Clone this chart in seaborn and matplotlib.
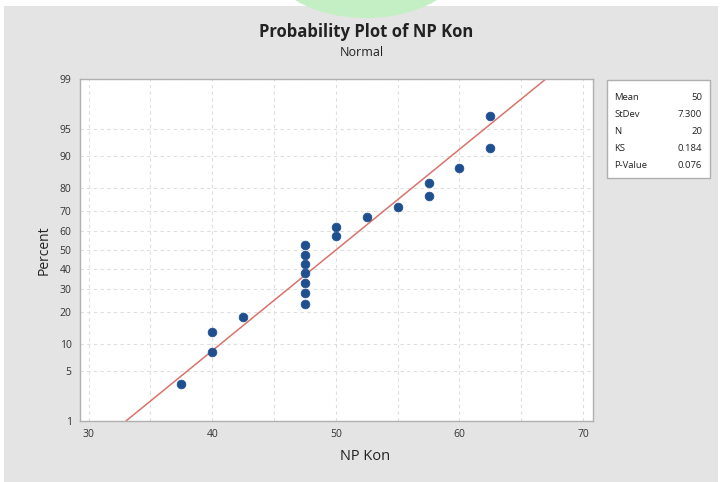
import numpy as np
import pandas as pd
import seaborn as sns
import matplotlib.pyplot as plt
from matplotlib.patches import Rectangle, Ellipse
from statistics import NormalDist

np_kon = [37.5, 40, 40, 42.5, 47.5, 47.5, 47.5, 47.5, 47.5, 47.5, 47.5,
          50, 50, 52.5, 55, 57.5, 57.5, 60, 62.5, 62.5]
percent_ticks = [1, 5, 10, 20, 30, 40, 50, 60, 70, 80, 90, 95, 99]
x_ticks = [30, 40, 50, 60, 70]
ks_stat = 0.184
p_value = 0.076

W, H = 722, 482
norm = NormalDist()


def fx(px):
    return px / W


def fy(py):
    # pixel rows from the top -> figure fraction
    return 1 - py / H


def main():
    sns.set_style("white")
    plt.rcParams['font.family'] = ['Open Sans', 'DejaVu Sans']

    n = len(np_kon)
    data = pd.DataFrame({"NP Kon": sorted(np_kon)})
    # median ranks, like Minitab
    data["pp"] = [(i + 1 - 0.3) / (n + 0.4) for i in range(n)]
    data["z"] = [norm.inv_cdf(p) for p in data["pp"]]

    mean = float(np.mean(np_kon))
    sd = float(np.std(np_kon, ddof=1))
    z_lo, z_hi = norm.inv_cdf(0.01), norm.inv_cdf(0.99)
    fit = pd.DataFrame({"x": [mean + z_lo * sd, mean + z_hi * sd], "z": [z_lo, z_hi]})

    fig = plt.figure(figsize=(W / 100, H / 100), dpi=100, facecolor="white")
    fig.patches.append(Rectangle((fx(4), 0), fx(714), fy(6), transform=fig.transFigure,
                                 facecolor="#e4e4e4", edgecolor="none", zorder=-2))
    fig.patches.append(Ellipse((fx(366), fy(-40)), fx(196), 116 / H, transform=fig.transFigure,
                               facecolor="#c4efc4", edgecolor="none", zorder=-1))

    ax = fig.add_axes([fx(80), fy(421), fx(593 - 80), (421 - 79) / H])
    ax.set_facecolor("white")

    sns.lineplot(data=fit, x="x", y="z", ax=ax, color="#d9736c", linewidth=1.1, zorder=2)
    sns.scatterplot(data=data, x="NP Kon", y="z", ax=ax, color="#1f4f8f", s=40,
                    edgecolor="#1f4f8f", linewidth=0.5, zorder=3)

    ax.set_xlim(29.3, 70.8)
    ax.set_ylim(z_lo, z_hi)
    ax.set_xticks(x_ticks)
    ax.set_xticklabels([str(t) for t in x_ticks])
    ax.set_xticks(np.arange(35, 70, 10), minor=True)
    ax.set_yticks([norm.inv_cdf(p / 100) for p in percent_ticks])
    ax.set_yticklabels([str(p) for p in percent_ticks])

    ax.grid(True, which="both", axis="x", color="#dedede", linestyle=(0, (3, 3)), linewidth=0.8)
    ax.grid(True, axis="y", color="#dedede", linestyle=(0, (3, 3)), linewidth=0.8)
    ax.tick_params(axis="both", which="major", direction="out", length=4, width=0.8,
                   color="#a0a0a0", labelsize=7.5, labelcolor="#333333", pad=2)
    ax.tick_params(axis="x", which="minor", length=0)
    for sp in ax.spines.values():
        sp.set_color("#b0b0b0")
        sp.set_linewidth(1.0)

    ax.set_xlabel("")
    ax.set_ylabel("")
    fig.text(fx(365), fy(457), "NP Kon", ha="center", va="center", fontsize=10.5, color="#222222")
    fig.text(fx(44), fy(250), "Percent", ha="center", va="center", rotation=90,
             fontsize=10, color="#222222")

    fig.text(fx(366), fy(32), "Probability Plot of NP Kon", ha="center", va="center",
             fontsize=12, fontweight="bold", color="#222222")
    fig.text(fx(362), fy(53), "Normal", ha="center", va="center", fontsize=9, color="#222222")

    # statistics box
    fig.patches.append(Rectangle((fx(607), fy(178)), fx(710 - 607), (178 - 80) / H,
                                 transform=fig.transFigure, facecolor="white",
                                 edgecolor="#b0b0b0", linewidth=1.0))
    rows = [("Mean", f"{mean:g}"), ("StDev", f"{sd:.3f}"), ("N", str(n)),
            ("KS", f"{ks_stat:.3f}"), ("P-Value", f"{p_value:.3f}")]
    for i, (lab, val) in enumerate(rows):
        y = fy(98 + i * 16.8)
        fig.text(fx(614), y, lab, ha="left", va="center", fontsize=6.8, color="#222222")
        fig.text(fx(702), y, val, ha="right", va="center", fontsize=6.8, color="#222222")

    fig.savefig("out.png", dpi=100, facecolor=fig.get_facecolor())


if __name__ == "__main__":
    main()
